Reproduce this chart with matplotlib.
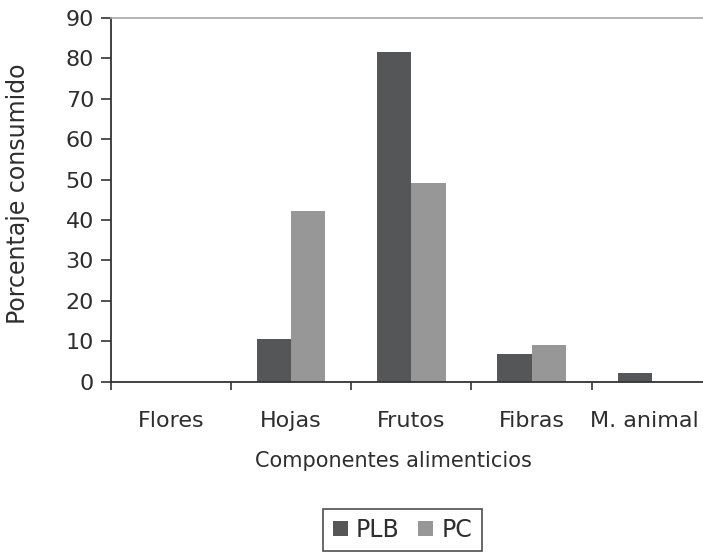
import matplotlib
matplotlib.use("Agg")
import matplotlib.pyplot as plt
import matplotlib.transforms as mtransforms
import numpy as np

categories = ["Flores", "Hojas", "Frutos", "Fibras", "M. animal"]
plb = [0, 10.5, 81.7, 6.9, 2.1]
pc = [0, 42.3, 49.1, 9.0, 0]
yticks = [0, 10, 20, 30, 40, 50, 60, 70, 80, 90]

plt.rcParams['font.family'] = ['DejaVu Sans']
plt.rcParams['font.size'] = 16

W, H = 703, 552
fig = plt.figure(figsize=(W / 100, H / 100), dpi=100)
ax_l, ax_r, ax_b, ax_t = 110.7, 712.0, 381.7, 18.0
ax = fig.add_axes([ax_l / W, 1 - ax_b / H, (ax_r - ax_l) / W, (ax_b - ax_t) / H])

x = np.arange(len(categories))
w = 1 / 3.5
c_plb = "#555658"
c_pc = "#979797"
ax.bar(x - w / 2, plb, width=w, color=c_plb, label="PLB")
ax.bar(x + w / 2, pc, width=w, color=c_pc, label="PC")

txt = "#2e2e2e"
ax.set_xlim(-0.5, len(categories) - 0.5)
ax.set_ylim(0, 90)
ax.set_yticks(yticks)
ax.set_xticks(x)
ax.set_xticklabels(categories, color=txt)
ax.tick_params(axis='x', length=0, pad=21)
ax.set_xticks(np.arange(-0.5, len(categories) - 0.4, 1), minor=True)
ax.tick_params(axis='x', which='minor', length=6, width=1.2, color="#333333", direction='out')
ax.tick_params(axis='y', length=7, width=1.2, color="#333333", direction='out',
               labelcolor=txt, pad=5)

# shift the last category label left so it fits inside the picture
last = ax.get_xticklabels()[-1]
last.set_transform(last.get_transform() +
                   mtransforms.ScaledTranslation(-7 / 100, 0, fig.dpi_scale_trans))

for s in ['left', 'bottom']:
    ax.spines[s].set_color("#333333")
    ax.spines[s].set_linewidth(1.3)
ax.spines['right'].set_visible(False)
ax.spines['top'].set_color("#a8a8a8")
ax.spines['top'].set_linewidth(1.2)

ax.set_xlabel("Componentes alimenticios", color=txt, fontsize=15)
ax.xaxis.set_label_coords(0.471, -0.19)
ax.set_ylabel("Porcentaje consumido", color=txt, fontsize=17)
ax.yaxis.set_label_coords(-0.134, 0.516)

leg = fig.legend(loc='center', bbox_to_anchor=(402.5 / W, 1 - 530 / H), ncol=2,
                 frameon=True, fancybox=False, edgecolor="#222222",
                 handlelength=0.62, handleheight=0.62, handletextpad=0.35,
                 columnspacing=0.8, borderpad=0.4, borderaxespad=0,
                 labelcolor=txt, fontsize=17)
leg.get_frame().set_linewidth(1.2)

fig.savefig("out.png", dpi=100)
